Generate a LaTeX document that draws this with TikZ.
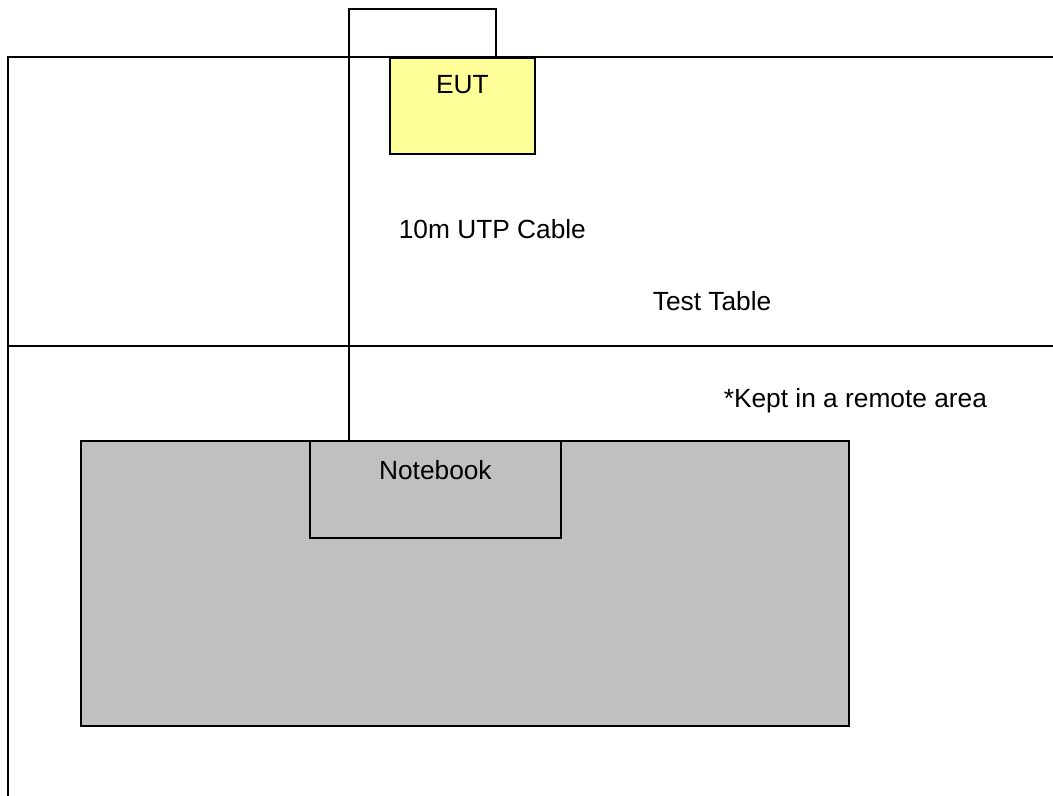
\documentclass[tikz,border=0pt]{standalone}
\usepackage{fontspec}
\setmainfont{Liberation Sans}
\definecolor{eutyellow}{HTML}{FFFF99}
\definecolor{remotegray}{HTML}{C0C0C0}

\begin{document}
\begin{tikzpicture}[x=0.025cm, y=-0.025cm, line width=1.2pt,
	every node/.style={font=\fontsize{18.7}{22}\selectfont, inner sep=0pt},
	box/.style={draw, fill=#1}]
	\useasboundingbox (0,0) rectangle (1053,796);

	% test table edges
	\draw (8,796) -- (8,57) -- (1053,57);
	\draw (8,346) -- (1053,346);

	\node(Remote) [box=remotegray, anchor=north west, minimum width=19.2cm, minimum height=7.125cm] at (80,440) {};
	\node(Notebook) [box=remotegray, anchor=north west, minimum width=6.275cm, text height=0.975cm, text depth=1.45cm] at (309,440) {Notebook};
	\node(EUT) [box=eutyellow, anchor=north west, minimum width=3.625cm, text height=0.88cm, text depth=1.52cm] at (389,57) {EUT};

	\node(Cable) [anchor=base west] at (398,238) {10m UTP Cable};
	\node(Table) [anchor=base west] at (652,310) {Test Table};
	\node(Kept) [anchor=base west] at (723,407) {*Kept in a remote area};

	% UTP cable loop
	\coordinate(loopL) at (349,9);
	\coordinate(loopR) at (496,9);
	\draw(Notebook.north -| loopL) -- (loopL) -- (loopR) -- (EUT.north -| loopR);

\end{tikzpicture}
\end{document}
